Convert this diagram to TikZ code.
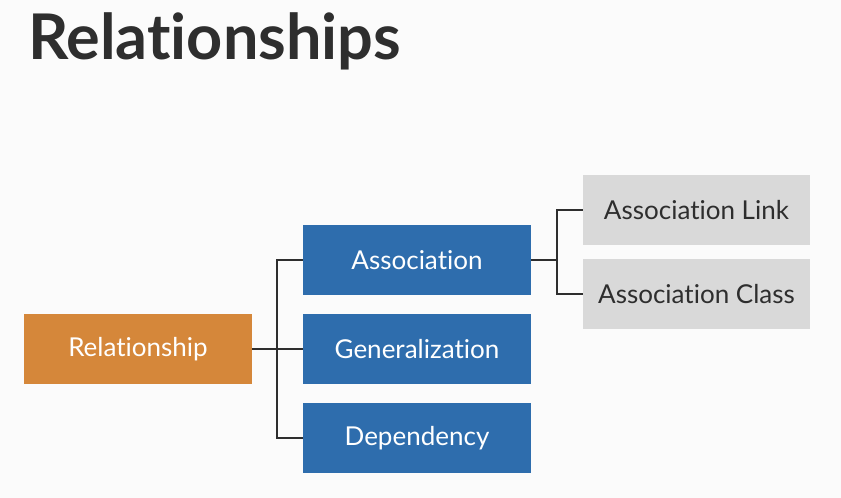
\documentclass[tikz,border=0pt]{standalone}
\usepackage{fontspec}
\setmainfont[Ligatures=NoCommon]{Lato}
\definecolor{bgcol}{HTML}{FBFBFB}
\definecolor{rootcol}{HTML}{D5873A}
\definecolor{kindcol}{HTML}{2E6DAD}
\definecolor{subcol}{HTML}{D9D9D9}
\definecolor{inkcol}{HTML}{2E2E2E}
\begin{document}
\begin{tikzpicture}[x=1pt,y=1pt,
  box/.style={minimum width=228pt,minimum height=70pt,inner sep=0pt,font=\fontsize{26}{30}\selectfont},
  rootbox/.style={box,fill=rootcol,text=white},
  kindbox/.style={box,fill=kindcol,text=white},
  subbox/.style={box,fill=subcol,text=inkcol,minimum width=227pt},
  link/.style={draw=inkcol,line width=2pt}]
\fill[bgcol] (0,0) rectangle (841,498);
\useasboundingbox (0,0) rectangle (841,498);
\node[anchor=base west,text=inkcol,font=\fontsize{63}{72}\selectfont\bfseries,inner sep=0pt] (title) at (28,438) {Relationships};
\node[rootbox] (rel) at (138,149) {Relationship};
\node[kindbox] (assoc) at (417,238) {Association};
\node[kindbox] (gen) at (417,149) {Generalization};
\node[kindbox] (dep) at (417,60) {Dependency};
\node[subbox] (alink) at (696.5,288) {Association Link};
\node[subbox] (aclass) at (696.5,204) {Association Class};
\coordinate (j1) at (277,0);
\coordinate (j2) at (557,0);
\draw[link] (rel.east) -- (gen.west);
\draw[link] (assoc.west) -- (assoc.west -| j1) -- (dep.west -| j1) -- (dep.west);
\draw[link] (assoc.east) -- (assoc.east -| j2);
\draw[link] (alink.west) -- (alink.west -| j2) -- (aclass.west -| j2) -- (aclass.west);
\end{tikzpicture}
\end{document}
